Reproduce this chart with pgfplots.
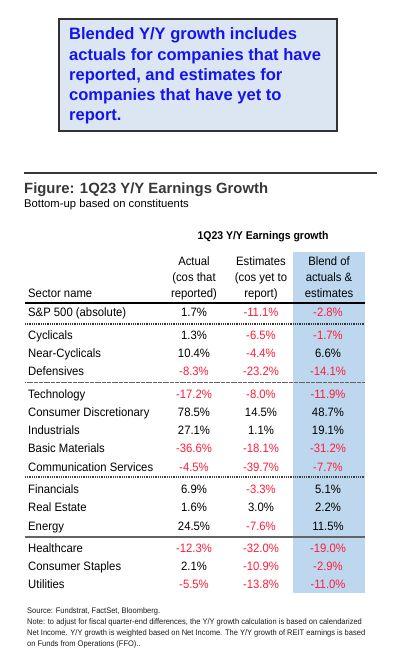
\documentclass[border=0pt]{standalone}
\usepackage{pgfplots}
\pgfplotsset{compat=1.18}
\usepackage{pgfplotstable}
\usepackage{fontspec}
\setmainfont{Liberation Sans}
\newfontfamily\tablefont{Liberation Sans}[FakeStretch=0.93]
\definecolor{negred}{RGB}{255,30,55}
\definecolor{boxfill}{RGB}{220,230,242}
\definecolor{boxborder}{RGB}{50,50,50}
\definecolor{boxtext}{RGB}{20,20,240}
\definecolor{titlegray}{RGB}{55,55,55}
\definecolor{colblue}{RGB}{189,215,238}
\definecolor{sepgray}{RGB}{100,100,100}
\newcommand\rowfont{\tablefont\fontsize{12.2}{14}\selectfont}
\def\checkneg#1#2\relax{\ifx-#1\color{negred}\fi#1#2\%}
\newcommand\pctcell{\edef\tmpv{\pgfplotspointmeta}\expandafter\checkneg\tmpv\relax}
\tikzset{hdr/.style={anchor=base, inner sep=0pt, font=\rowfont}}
\pgfplotstableread[col sep=comma]{
name,actual,est,blend,y
{S\&P 500 (absolute)},1.7,-11.1,-2.8,312
Cyclicals,1.3,-6.5,-1.7,335
Near-Cyclicals,10.4,-4.4,6.6,353
Defensives,-8.3,-23.2,-14.1,371
Technology,-17.2,-8.0,-11.9,394
Consumer Discretionary,78.5,14.5,48.7,412
Industrials,27.1,1.1,19.1,430
Basic Materials,-36.6,-18.1,-31.2,448
Communication Services,-4.5,-39.7,-7.7,467
Financials,6.9,-3.3,5.1,489
Real Estate,1.6,3.0,2.2,507
Energy,24.5,-7.6,11.5,526
Healthcare,-12.3,-32.0,-19.0,548
Consumer Staples,2.1,-10.9,-2.9,566
Utilities,-5.5,-13.8,-11.0,584
}\sectordata
\begin{document}
\begin{tikzpicture}
\path[use as bounding box] (0,0) rectangle (404bp,658bp);
\begin{axis}[
  scale only axis, width=404bp, height=658bp,
  xmin=0, xmax=404, ymin=0, ymax=658, y dir=reverse,
  hide axis, clip=false,
  numcol/.style={only marks, mark=*, mark size=0pt, mark options={draw=none,fill=none},
    point meta=explicit symbolic,
    nodes near coords={\pctcell},
    nodes near coords style={anchor=base, font=\rowfont, inner sep=0pt, text=black}},
]
% info box
\draw[fill=boxfill, draw=boxborder, line width=1.1bp] (axis cs:59,19) rectangle (axis cs:337,131);
\begin{scope}[every node/.style={anchor=base west, inner sep=0pt, text=boxtext, font=\bfseries\fontsize{16.6}{20}\selectfont}]
\node at (axis cs:69,40) {Blended Y/Y growth includes};
\node at (axis cs:69,60.5) {actuals for companies that have};
\node at (axis cs:69,80.5) {reported, and estimates for};
\node at (axis cs:69,100.5) {companies that have yet to};
\node at (axis cs:69,120.5) {report.};
\end{scope}
% figure title
\draw[titlegray, line width=1.2bp] (axis cs:24,173) -- (axis cs:377,173);
\node[anchor=base west, inner sep=0pt, text=titlegray, font=\bfseries\fontsize{14.9}{17}\selectfont] at (axis cs:24,193.3) {Figure: 1Q23 Y/Y Earnings Growth};
\node[anchor=base west, inner sep=0pt, font=\fontsize{11.3}{13}\selectfont] at (axis cs:24,208) {Bottom-up based on constituents};
% column highlight
\fill[colblue] (axis cs:293,252) rectangle (axis cs:365,593);
% headers
\node[anchor=base, inner sep=0pt, font=\tablefont\bfseries\fontsize{11.3}{13}\selectfont] at (axis cs:263,239) {1Q23 Y/Y Earnings growth};
\node[hdr] at (axis cs:194,265.5) {Actual};
\node[hdr] at (axis cs:194,281.5) {(cos that};
\node[hdr] at (axis cs:194,297.5) {reported)};
\node[hdr] at (axis cs:261,265.5) {Estimates};
\node[hdr] at (axis cs:261,281.5) {(cos yet to};
\node[hdr] at (axis cs:261,297.5) {report)};
\node[hdr] at (axis cs:329,265.5) {Blend of};
\node[hdr] at (axis cs:329,281.5) {actuals \&};
\node[hdr] at (axis cs:329,297.5) {estimates};
\node[hdr, anchor=base west] at (axis cs:28,297.5) {Sector name};
% separators
\draw[black, line width=2.2bp] (axis cs:25,303) -- (axis cs:365,303);
\draw[black!80, line width=1.8bp, dash pattern=on 0.9bp off 0.9bp] (axis cs:25,324) -- (axis cs:365,324);
\draw[sepgray, line width=1.8bp, dash pattern=on 1.4bp off 0.3bp] (axis cs:25,382.5) -- (axis cs:365,382.5);
\draw[black!75, line width=1.8bp, dash pattern=on 0.9bp off 0.9bp] (axis cs:25,477) -- (axis cs:365,477);
\draw[sepgray, line width=1.8bp] (axis cs:25,537) -- (axis cs:365,537);
% sector names
\addplot[only marks, mark=*, mark size=0pt, mark options={draw=none,fill=none},
  nodes near coords, point meta=explicit symbolic,
  nodes near coords style={anchor=base west, font=\rowfont, inner sep=0pt, text=black}]
  table[x expr=28, y expr=\thisrow{y}+4.5, meta=name]{\sectordata};
% values
\addplot[numcol] table[x expr=194, y expr=\thisrow{y}+4.5, meta=actual]{\sectordata};
\addplot[numcol] table[x expr=261, y expr=\thisrow{y}+4.5, meta=est]{\sectordata};
\addplot[numcol] table[x expr=328, y expr=\thisrow{y}+4.5, meta=blend]{\sectordata};
% notes
\begin{scope}[every node/.style={anchor=base west, inner sep=0pt, text=black!90, font=\tablefont\fontsize{8.1}{10}\selectfont}]
\node at (axis cs:27,613) {Source: Fundstrat, FactSet, Bloomberg.};
\node at (axis cs:27,624) {Note: to adjust for fiscal quarter-end differences, the Y/Y growth calculation is based on calendarized};
\node at (axis cs:27,635) {Net Income. Y/Y growth is weighted based on Net Income. The Y/Y growth of REIT earnings is based};
\node at (axis cs:27,646) {on Funds from Operations (FFO)..};
\end{scope}
\end{axis}
\end{tikzpicture}
\end{document}
